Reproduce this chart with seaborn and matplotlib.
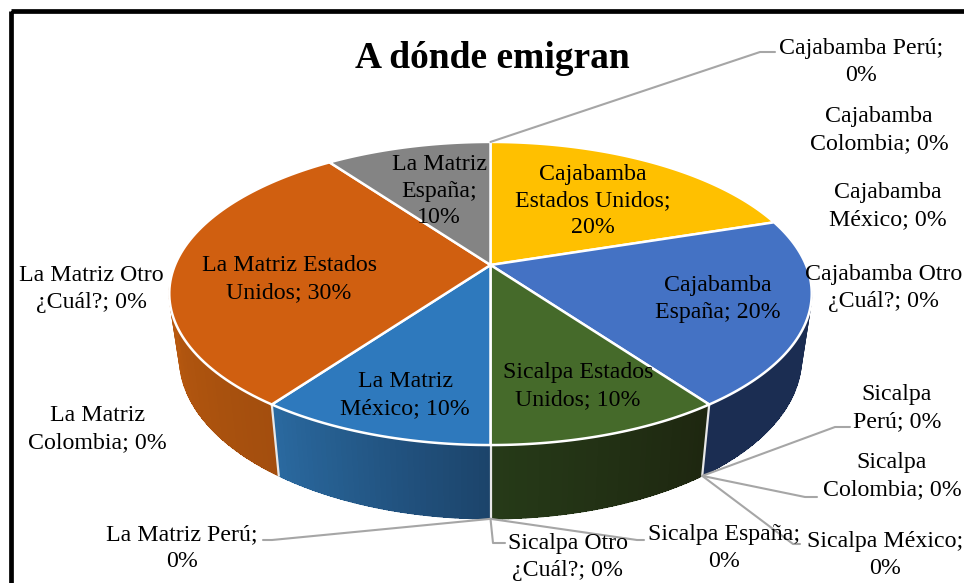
# imports
import numpy as np
import matplotlib
matplotlib.use('Agg')
import matplotlib.pyplot as plt
from matplotlib.colors import to_rgb
from matplotlib.patches import Rectangle
import seaborn as sns

# ====================================================================================================

# data, clockwise from the top of the pie
slice_names = ['Cajabamba\nEstados Unidos;', 'Cajabamba\nEspaña; 20%', 'Sicalpa Estados\nUnidos; 10%',
               'La Matriz\nMéxico; 10%', 'La Matriz Estados\nUnidos; 30%', 'La Matriz\nEspaña;']
slice_values = [20, 20, 10, 10, 30, 10]
slice_colors = ['#FFC000', '#4472C4', '#456A2A', '#2E79BD', '#D05F10', '#848484']

# zero percent labels
zero_names = ['Cajabamba Perú;\n0%', 'Cajabamba\nColombia; 0%', 'Cajabamba\nMéxico; 0%',
              'Cajabamba Otro\n¿Cuál?; 0%', 'Sicalpa\nPerú; 0%', 'Sicalpa\nColombia; 0%',
              'Sicalpa México;\n0%', 'Sicalpa España;\n0%', 'Sicalpa Otro\n¿Cuál?; 0%',
              'La Matriz Perú;\n0%', 'La Matriz\nColombia; 0%', 'La Matriz Otro\n¿Cuál?; 0%']

# ====================================================================================================

# geometry of the tilted disc, in pixels
cx = 490.5
top_cy, bot_cy = 265, 328
rx, ry = 315.5, 146.2
persp = 0.188
bot_sx, bot_sy = 0.968, 1.06

def rim(theta, bottom=False):
    # theta is clockwise from the top, in degrees
    t = np.radians(theta)
    w = 1 + persp * np.cos(t)
    x = rx * np.sin(t) / w
    y = -ry * np.cos(t) / w
    if bottom:
        return cx + bot_sx * x, bot_cy + bot_sy * y
    return cx + x, top_cy + y

def wall(ax, a, b, c0, c1):
    # side of one slice as thin strips, shaded from c0 to c1
    c0, c1 = np.array(to_rgb(c0)), np.array(to_rgb(c1))
    steps = np.linspace(a, b, 41)
    for i in range(40):
        tx = np.array(rim(steps[i:i + 2]))
        bx = np.array(rim(steps[i:i + 2], bottom=True))
        xs = [tx[0, 0], tx[0, 1], bx[0, 1], bx[0, 0]]
        ys = [tx[1, 0], tx[1, 1], bx[1, 1], bx[1, 0]]
        c = c0 + (c1 - c0) * i / 39
        ax.fill(xs, ys, color=c, lw=0, antialiased=False, zorder=2)
        ax.plot(xs, ys, color=c, lw=0.9, zorder=2)

# ====================================================================================================

def main():
    sns.set_theme(style='white')
    plt.rcParams['font.family'] = ['Liberation Serif', 'DejaVu Serif']

    fig = plt.figure(figsize=(9.64, 5.83), dpi=100)
    ax = fig.add_axes([0, 0, 1, 1])
    ax.set_xlim(0, 964)
    ax.set_ylim(583, 0)
    ax.axis('off')

    # frame of the chart
    ax.add_patch(Rectangle((11, 11), 1000, 1000, fill=False, ec='black', lw=3.4, zorder=1))

    colors = sns.color_palette(slice_colors)
    edges = np.cumsum([0] + slice_values) * 3.6

    # side walls, only the part that faces the viewer
    wall(ax, 100, edges[2], '#1B2D52', '#1B2D52')
    wall(ax, edges[2], edges[3], '#1E2710', '#263A18')
    wall(ax, edges[3], edges[4], '#1C446B', '#2A699F')
    wall(ax, edges[4], 262, '#A34E0E', '#B8590F')
    for a in edges[2:5]:
        x0, y0 = rim(a)
        x1, y1 = rim(a, bottom=True)
        ax.plot([x0, x1], [y0, y1], color='#E8E8E8', lw=1.6, zorder=3)

    # top of the pie
    for i, c in enumerate(colors):
        thetas = np.linspace(edges[i], edges[i + 1], 80)
        xs, ys = rim(thetas)
        ax.fill(np.r_[cx, xs], np.r_[top_cy, ys], facecolor=c, edgecolor='white', lw=1.8,
                joinstyle='round', zorder=4)

    # labels inside the slices
    fs = 17.2
    inside = [(593, 201), (718, 299), (578, 386), (405, 395), (289, 279), (439, 191)]
    texts = list(slice_names)
    texts[0] += '\n%d%%' % slice_values[0]
    texts[5] += '\n%d%%' % slice_values[5]
    for t, (x, y) in zip(texts, inside):
        ax.text(x, y, t, ha='center', va='center', fontsize=fs, color='black',
                linespacing=1.35, zorder=6)

    # labels of the empty categories
    outside = [(861, 62), (879, 130), (888, 206), (884, 288), (897, 408), (892, 476),
               (885, 555), (724, 548), (568, 557), (182, 548), (97, 429), (91, 289)]
    for t, (x, y) in zip(zero_names, outside):
        ax.text(x, y, t, ha='center', va='center', fontsize=fs, color='black',
                linespacing=1.35, zorder=6)

    # leader lines, they start at a slice boundary
    grey = '#A6A6A6'
    p_top = rim(edges[0])
    p_a = rim(edges[2], bottom=True)
    p_b = rim(edges[3], bottom=True)
    leaders = [(p_top, [(760, 52), (775, 52)]),
               (p_a, [(835, 427), (850, 427)]),
               (p_a, [(805, 497), (817, 497)]),
               (p_a, [(793, 544), (800, 544)]),
               (p_b, [(637, 540), (644, 540)]),
               (p_b, [(493, 543), (505, 543)]),
               (p_b, [(272, 540), (263, 540)])]
    for start, rest in leaders:
        pts = [start] + rest
        ax.plot([p[0] for p in pts], [p[1] for p in pts], color=grey, lw=1.5, zorder=5)

    ax.text(492, 58, 'A dónde emigran', ha='center', va='center', fontsize=27,
            fontweight='bold', color='black', zorder=6)

    fig.savefig('out.png', dpi=100, facecolor='white')

# ====================================================================================================

if __name__ == '__main__':
    main()
